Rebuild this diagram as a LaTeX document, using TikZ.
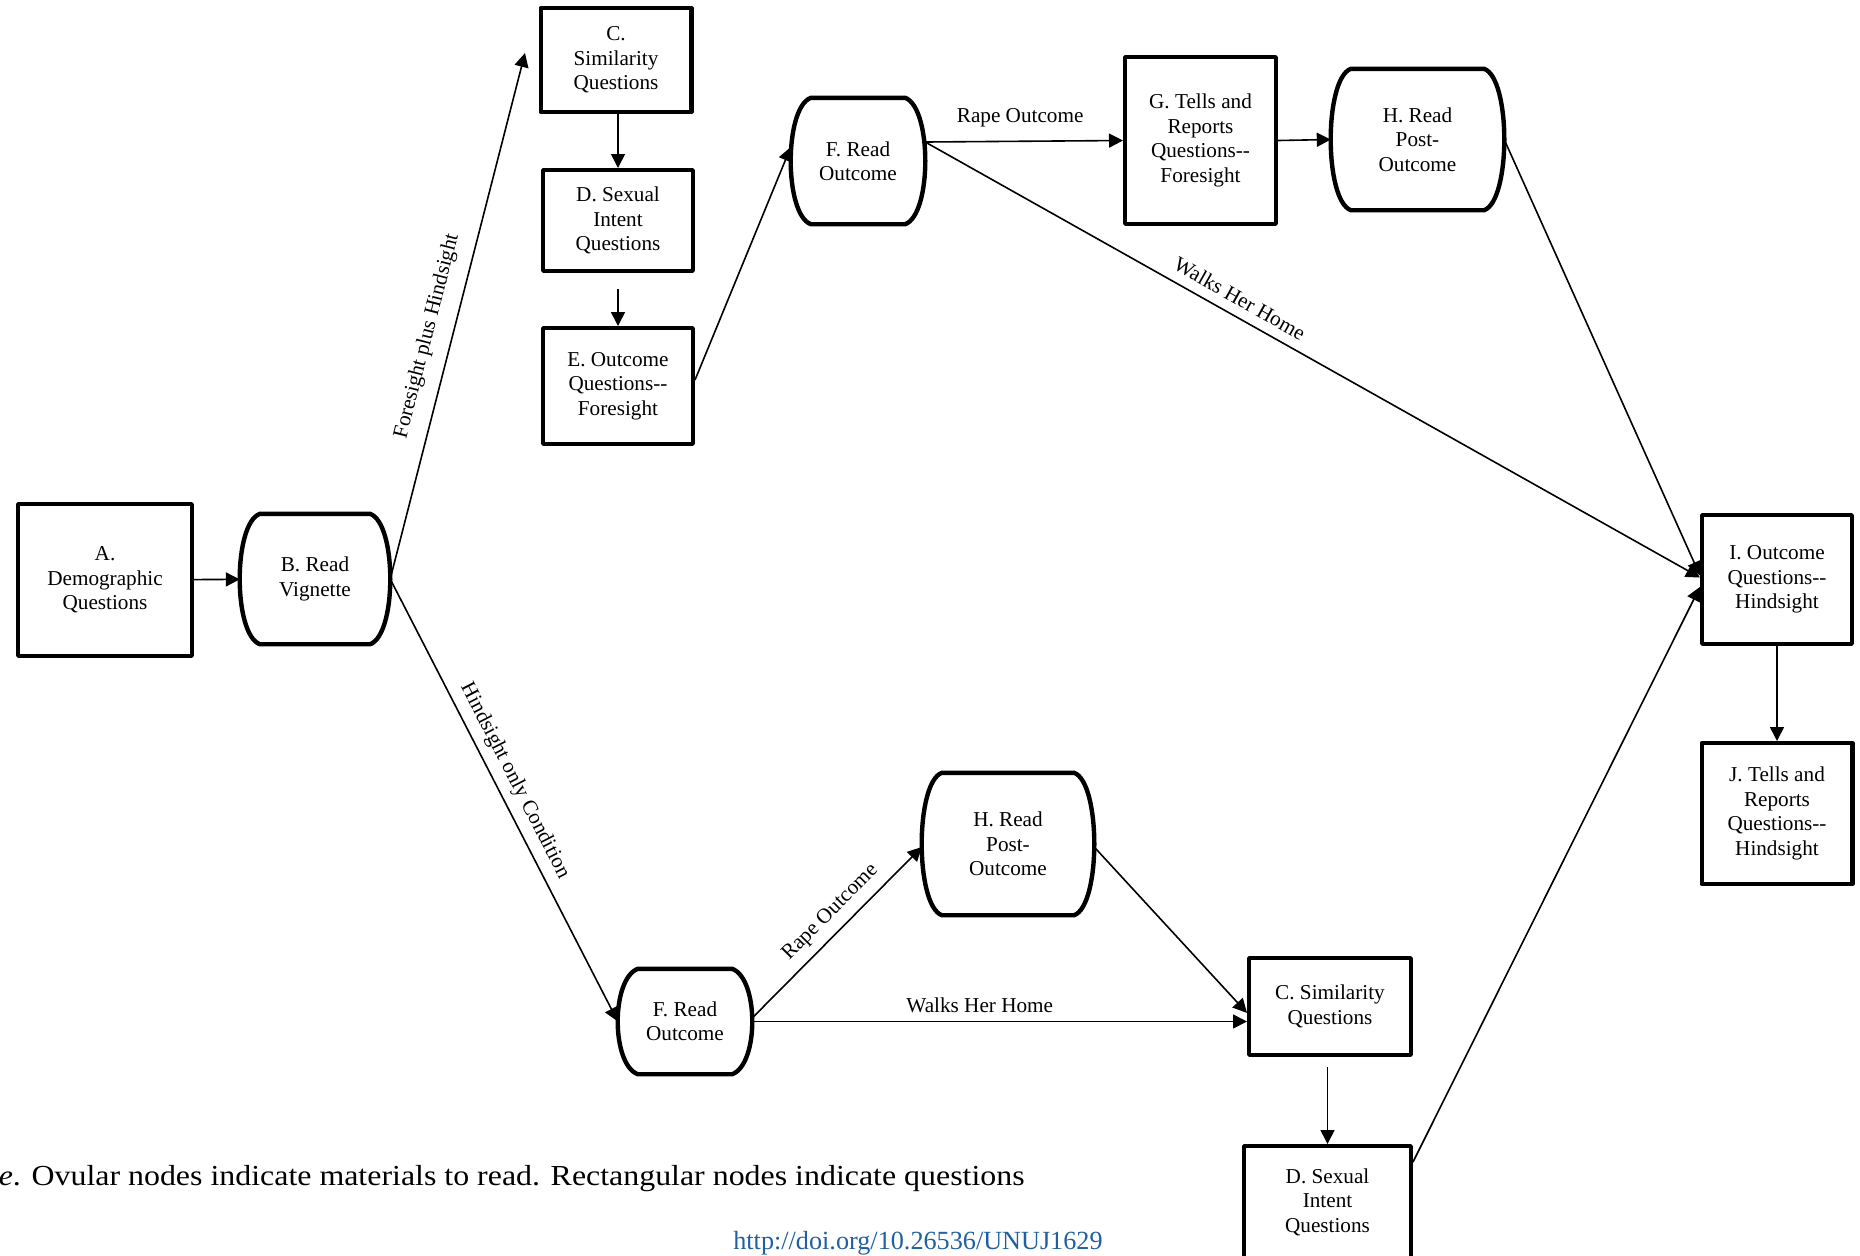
\documentclass[tikz,border=0pt]{standalone}
\usepackage{fontspec}
\setmainfont{Liberation Serif}
\newfontfamily\capfamily[FakeStretch=1.10]{Liberation Serif}
\usetikzlibrary{arrows.meta,calc}
\definecolor{doiblue}{HTML}{2160A0}
\newcommand\nodefont{\fontsize{10.6}{12.2}\selectfont}
\newcommand\capfont{\capfamily\fontsize{14.5}{16}\selectfont}
\newcommand\doifont{\fontsize{13.1}{15}\selectfont}
\newcommand\readoutline[1]{%
  \draw[boxline] ($(#1.north west)+(10pt,0)$) -- ($(#1.north east)+(-10pt,0)$)
    .. controls ($(#1.north east)+(3.4pt,-5pt)$) and ($(#1.south east)+(3.4pt,5pt)$) .. ($(#1.south east)+(-10pt,0)$)
    -- ($(#1.south west)+(10pt,0)$)
    .. controls ($(#1.south west)+(-3.4pt,5pt)$) and ($(#1.north west)+(-3.4pt,-5pt)$) .. cycle;}
\begin{document}
\begin{tikzpicture}[x=0.5pt,y=-0.5pt,
  boxline/.style={line width=2.2pt, line join=round},
  qbox/.style={draw, boxline, rectangle, inner sep=0pt, align=center, font=\nodefont},
  rbox/.style={rectangle, inner sep=0pt, align=center, font=\nodefont},
  conn/.style={line width=0.8pt, -{Triangle[length=7pt,width=7pt]}},
  lab/.style={font=\nodefont, inner sep=2pt}]
\useasboundingbox (0,0) rectangle (1860,1255);
\clip (0,0) rectangle (1860,1255);

% question boxes
\node[qbox, minimum width=86.8pt, minimum height=75.8pt] (A) at (105,580) {A.\\Demographic\\Questions};
\node[qbox, minimum width=75.3pt, minimum height=51.8pt] (C) at (616,60) {C.\\Similarity\\Questions};
\node[qbox, minimum width=74.8pt, minimum height=50.3pt] (D) at (618,220.5) {D. Sexual\\Intent\\Questions};
\node[qbox, minimum width=74.8pt, minimum height=57.8pt] (E) at (618,386) {E. Outcome\\Questions-{}-\\Foresight};
\node[qbox, minimum width=75.3pt, minimum height=83.3pt] (G) at (1200.5,140.5) {G. Tells and\\Reports\\Questions-{}-\\Foresight};
\node[qbox, minimum width=74.8pt, minimum height=64.3pt] (I) at (1777,579.5) {I. Outcome\\Questions-{}-\\Hindsight};
\node[qbox, minimum width=75.3pt, minimum height=70.3pt] (J) at (1777,813.5) {J. Tells and\\Reports\\Questions-{}-\\Hindsight};
\node[qbox, minimum width=80.8pt, minimum height=48.3pt] (Cb) at (1330,1006.5) {C. Similarity\\Questions};
\node[qbox, minimum width=83.3pt, minimum height=55.8pt] (Db) at (1327.5,1202) {D. Sexual\\Intent\\Questions};

% reading nodes
\node[rbox, minimum width=74.8pt, minimum height=64.8pt] (B) at (315,579) {B. Read\\Vignette};
\node[rbox, minimum width=66.8pt, minimum height=62.8pt] (F) at (858,161) {F. Read\\Outcome};
\node[rbox, minimum width=86.3pt, minimum height=70.3pt] (H) at (1417.5,139.5) {H. Read\\Post-\\Outcome};
\node[rbox, minimum width=85.8pt, minimum height=70.8pt] (Hb) at (1008,844) {H. Read\\Post-\\Outcome};
\node[rbox, minimum width=66.8pt, minimum height=52.3pt] (Fb) at (685,1021.5) {F. Read\\Outcome};
\readoutline{B}
\readoutline{F}
\readoutline{H}
\readoutline{Hb}
\readoutline{Fb}

% connectors
\coordinate (fh) at (525,53);
\draw[conn] (A) -- (B);
\draw[conn] (B.east) -- node[lab, sloped, above=5pt, pos=0.45] {Foresight plus Hindsight} (fh);
\draw[conn] (B.east) -- node[lab, sloped, above=2pt, pos=0.475] {Hindsight only Condition} (Fb.west);
\draw[conn] (D.north |- C.south) -- (D.north);
\draw[conn] ([yshift=-8pt]D.south) -- (E.north);
\draw[conn] ([yshift=3pt]E.east) -- ([yshift=7pt]F.west);
\draw[conn] ([yshift=9.5pt]F.east) -- node[lab, above=4.5pt, pos=0.48] {Rape Outcome} (G.west);
\draw[conn] (G.east) -- (H.west);
\draw[conn] ([yshift=9.5pt]F.east) -- node[lab, sloped, above=2.7pt, pos=0.395] {Walks Her Home} ([yshift=1pt]I.west);
\draw[conn] (H.east) -- ([yshift=2pt]I.west);
\draw[conn] ([yshift=-9pt]Db.north east) -- ([yshift=-3.7pt]I.west);
\draw[conn] (I) -- (J);
\draw[conn] ([yshift=1.75pt]Fb.east) -- node[lab, sloped, above=2.3pt, pos=0.54] {Rape Outcome} ([yshift=-1.5pt]Hb.west);
\draw[conn] (Fb.east) -- node[lab, above=2pt, pos=0.46] {Walks Her Home} (Fb.east -| Cb.west);
\draw[conn] ([yshift=-1.5pt]Hb.east) -- ([yshift=-3.2pt]Cb.west);
\draw[conn] ($(Cb.south -| Db.north)+(0,-5pt)$) -- (Db.north);

% caption
\node[anchor=base east, font=\capfont, inner sep=0pt] (cap) at (1025,1185) {\textit{Note}. Ovular nodes indicate materials to read. Rectangular nodes indicate questions};
\node[anchor=base east, font=\doifont, text=doiblue, inner sep=0pt] (doi) at (1103,1249) {http://doi.org/10.26536/UNUJ1629};
\end{tikzpicture}
\end{document}
